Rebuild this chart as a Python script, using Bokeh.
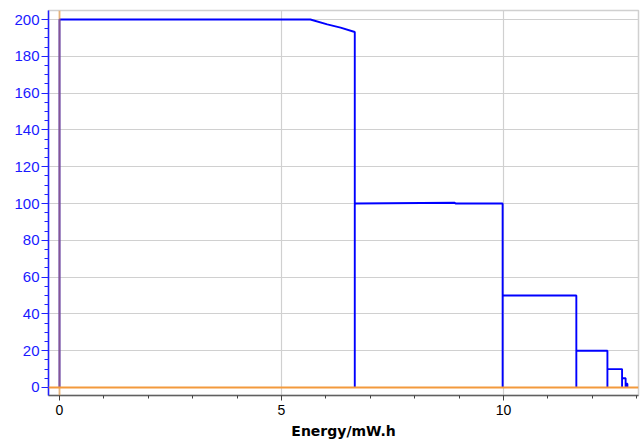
from bokeh.plotting import figure
from bokeh.models import Range1d, SingleIntervalTicker, Span, ColumnDataSource
from bokeh.embed import file_html
from bokeh.resources import INLINE

# Data (Energy in mW.h vs power level)
energy = [0, 0, 5.65, 6.03, 6.33, 6.65, 6.65, 6.65, 8.9, 8.92, 9.98, 9.98, 9.98,
          11.64, 11.64, 11.64, 12.34, 12.34, 12.34, 12.67, 12.67, 12.67, 12.75,
          12.75, 12.75, 12.79, 12.79]
power = [0, 200, 200, 197.4, 195.6, 193.2, 0, 100, 100.4, 100, 100, 0, 50,
         50, 0, 20, 20, 0, 10, 10, 0, 5, 5, 0, 2, 2, 0]

x_label = "Energy/mW.h"

p = figure(width=640, height=442, output_backend="svg", toolbar_location=None,
           x_range=Range1d(-0.248, 13.04), y_range=Range1d(-4.35, 204.9),
           min_border_left=48, min_border_right=2, min_border_top=10,
           min_border_bottom=47)

p.outline_line_color = "#d0d0d0"
p.outline_line_width = 1.5
p.background_fill_color = "white"

src = ColumnDataSource(dict(x=energy, y=power))
p.line("x", "y", source=src, line_color="#0000ff", line_width=1.9)

p.add_layout(Span(location=0, dimension="width", line_color="#f39a3c",
                  line_width=2, level="overlay"))
p.add_layout(Span(location=0, dimension="height", line_color="#f39a3c",
                  line_width=2, line_alpha=0.55, level="overlay"))

# x axis
xa = p.xaxis[0]
xa.ticker = SingleIntervalTicker(interval=5, num_minor_ticks=5)
xa.axis_line_color = "#606060"
xa.axis_line_width = 1.5
xa.major_tick_line_color = "#404040"
xa.minor_tick_line_color = "#404040"
xa.major_tick_in = 0
xa.major_tick_out = 5
xa.minor_tick_in = 0
xa.minor_tick_out = 3
xa.major_label_text_font = "Liberation Sans"
xa.major_label_text_font_size = "14px"
xa.major_label_text_color = "black"
xa.major_label_standoff = 4
xa.axis_label = x_label
xa.axis_label_text_font = "DejaVu Sans"
xa.axis_label_text_font_style = "bold"
xa.axis_label_text_font_size = "14px"
xa.axis_label_text_color = "black"
xa.axis_label_standoff = 5

# y axis
ya = p.yaxis[0]
ya.ticker = SingleIntervalTicker(interval=20, num_minor_ticks=4)
ya.axis_line_color = "#2020ff"
ya.axis_line_width = 1.5
ya.major_tick_line_color = "#2020ff"
ya.minor_tick_line_color = "#2020ff"
ya.major_tick_in = 0
ya.major_tick_out = 7
ya.minor_tick_in = 0
ya.minor_tick_out = 4
ya.major_label_text_font = "Liberation Sans"
ya.major_label_text_font_size = "15px"
ya.major_label_text_color = "#1a1aff"
ya.major_label_standoff = 2

p.xgrid.grid_line_color = "#d0d0d0"
p.ygrid.grid_line_color = "#d0d0d0"
p.xgrid.grid_line_width = 1.2
p.ygrid.grid_line_width = 1.2

open("out.html", "w").write(file_html(p, INLINE))
